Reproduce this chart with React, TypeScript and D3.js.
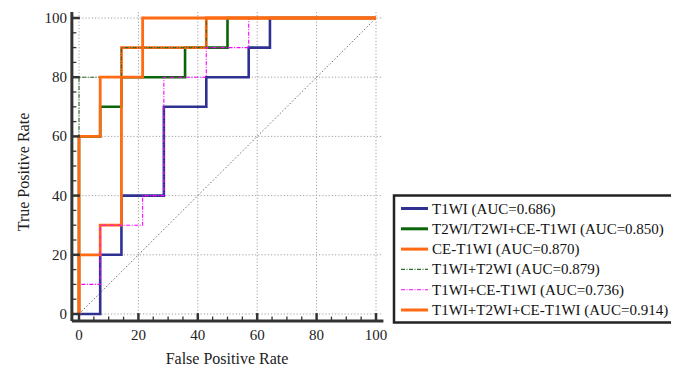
import React from 'react';
import * as d3 from 'd3';

// ROC step points (FPR steps are 1/14, TPR steps are 1/10)
const t1wiFpr = [0, 7.14, 7.14, 14.29, 14.29, 28.57, 28.57, 42.86, 42.86, 57.14, 57.14, 64.29, 64.29, 100];
const t1wiTpr = [0, 0, 20, 20, 40, 40, 70, 70, 80, 80, 90, 90, 100, 100];

const t2wiFpr = [0, 0, 7.14, 7.14, 14.29, 14.29, 35.71, 35.71, 50, 50, 100];
const t2wiTpr = [0, 60, 60, 70, 70, 80, 80, 90, 90, 100, 100];

const ceFpr = [0, 0, 7.14, 7.14, 14.29, 14.29, 42.86, 42.86, 100];
const ceTpr = [0, 20, 20, 30, 30, 90, 90, 100, 100];

const t1t2Fpr = [0, 0, 14.29, 14.29, 42.86, 42.86, 100];
const t1t2Tpr = [0, 80, 80, 90, 90, 100, 100];

const t1ceFpr = [0, 0, 7.14, 7.14, 21.43, 21.43, 28.57, 28.57, 42.86, 42.86, 57.14, 57.14, 100];
const t1ceTpr = [0, 10, 10, 30, 30, 40, 40, 80, 80, 90, 90, 100, 100];

const allFpr = [0, 0, 7.14, 7.14, 21.43, 21.43, 100];
const allTpr = [0, 60, 60, 80, 80, 100, 100];

const seriesNames = [
  'T1WI (AUC=0.686)',
  'T2WI/T2WI+CE-T1WI (AUC=0.850)',
  'CE-T1WI (AUC=0.870)',
  'T1WI+T2WI (AUC=0.879)',
  'T1WI+CE-T1WI (AUC=0.736)',
  'T1WI+T2WI+CE-T1WI (AUC=0.914)',
];
const seriesFpr = [t1wiFpr, t2wiFpr, ceFpr, t1t2Fpr, t1ceFpr, allFpr];
const seriesTpr = [t1wiTpr, t2wiTpr, ceTpr, t1t2Tpr, t1ceTpr, allTpr];

const tickValues = [0, 20, 40, 60, 80, 100];
const minorTicks = d3.range(0, 101, 5);

const styles = [
  { color: '#2E3192', width: 2.6, dash: undefined },
  { color: '#0A640A', width: 2.6, dash: undefined },
  { color: '#FF6A13', width: 2.8, dash: undefined },
  { color: '#2F6B2F', width: 1.1, dash: '4 1.5 1 1.5' },
  { color: '#FF00FF', width: 1.1, dash: '4 1.5 1 1.5' },
  { color: '#FF6A13', width: 2.8, dash: undefined },
];

const FONT = 'Liberation Serif, Times New Roman, serif';

export default function App() {
  const width = 679;
  const height = 369;
  const x = d3.scaleLinear().domain([0, 100]).range([79, 376]);
  const y = d3.scaleLinear().domain([0, 100]).range([314, 18]);
  const line = d3.line<[number, number]>().x(d => x(d[0])).y(d => y(d[1]));

  const axisColor = '#333';
  const axX = y(-2.4);
  const axY = x(-2.4);

  return (
    <svg width={width} height={height} style={{ display: 'block', margin: '-8px 0 0 -8px', background: '#fff' }}>
      {/* Grid */}
      <g stroke="#a0a0a0" strokeWidth={1} strokeDasharray="1.2 2">
        {tickValues.map(v => (
          <g key={v}>
            <line x1={x(0)} x2={x(102)} y1={y(v)} y2={y(v)} />
            <line x1={x(v)} x2={x(v)} y1={y(0)} y2={y(102)} />
          </g>
        ))}
      </g>

      {/* Diagonal reference */}
      <line x1={x(0)} y1={y(0)} x2={x(100)} y2={y(100)} stroke="#7a6a6a" strokeWidth={1} strokeDasharray="1.5 2" />

      {/* ROC curves */}
      {seriesFpr.map((fpr, i) => {
        const pts = fpr.map((f, j) => [f, seriesTpr[i][j]] as [number, number]);
        const s = styles[i];
        return (
          <path key={i} d={line(pts) || ''} fill="none" stroke={s.color} strokeWidth={s.width}
            strokeDasharray={s.dash} strokeLinejoin="miter" />
        );
      })}

      {/* Axes */}
      <line x1={axY} x2={x(102.5)} y1={axX} y2={axX} stroke={axisColor} strokeWidth={3} />
      <line x1={axY} x2={axY} y1={axX} y2={y(102)} stroke={axisColor} strokeWidth={3} />
      {minorTicks.map(v => {
        const major = v % 20 === 0;
        const len = major ? 8 : 4.5;
        const sw = major ? 2.5 : 1.3;
        return (
          <g key={v} stroke={axisColor} strokeWidth={sw}>
            <line x1={x(v)} x2={x(v)} y1={axX} y2={axX - len} />
            <line x1={axY} x2={axY + len} y1={y(v)} y2={y(v)} />
          </g>
        );
      })}
      {tickValues.map(v => (
        <g key={v}>
          <text x={x(v)} y={340} textAnchor="middle" fontFamily={FONT} fontSize={15} fill="#222">{v}</text>
          <text x={67} y={y(v) + 5} textAnchor="end" fontFamily={FONT} fontSize={15} fill="#222">{v}</text>
        </g>
      ))}

      <text x={227} y={364} textAnchor="middle" fontFamily={FONT} fontSize={16} fill="#222">False Positive Rate</text>
      <text transform="translate(29,172) rotate(-90)" textAnchor="middle" fontFamily={FONT} fontSize={16} fill="#222">True Positive Rate</text>

      {/* Legend */}
      <rect x={394} y={195.5} width={300} height={127} fill="#fff" stroke="#222" strokeWidth={2.5} />
      {seriesNames.map((name, i) => {
        const cy = 208.5 + i * 20.3;
        const s = styles[i];
        return (
          <g key={name}>
            <line x1={401} x2={428} y1={cy} y2={cy} stroke={s.color} strokeWidth={s.dash ? 1.1 : 3}
              strokeDasharray={s.dash} />
            <text x={432} y={cy + 5} fontFamily={FONT} fontSize={15} fill="#111">{name}</text>
          </g>
        );
      })}
    </svg>
  );
}
